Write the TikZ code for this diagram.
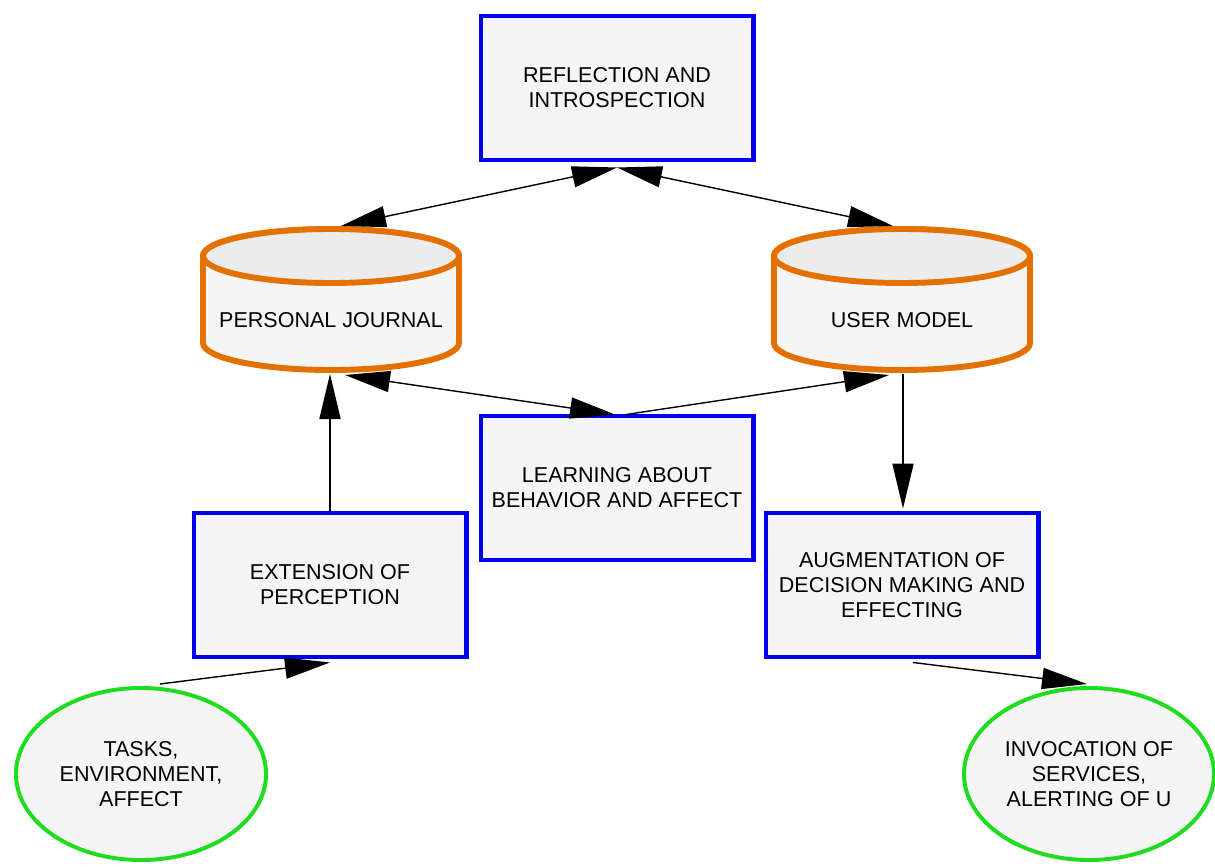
\documentclass[tikz,border=0pt]{standalone}
\usepackage{fontspec}
\setmainfont{Liberation Sans}
\usetikzlibrary{shapes.geometric, calc, arrows.meta}

\definecolor{boxblue}{RGB}{0,0,235}
\definecolor{dborange}{RGB}{228,112,0}
\definecolor{envgreen}{RGB}{30,220,30}
\definecolor{nodefill}{RGB}{245,245,245}
\definecolor{capfill}{RGB}{236,236,236}

\tikzset{
  procbox/.style={draw=boxblue, line width=3.5pt, fill=nodefill,
    minimum width=6.8cm, minimum height=3.6cm, align=center, inner sep=2pt},
  store/.style={draw=dborange, line width=4.2pt, fill=nodefill},
  world/.style={ellipse, draw=envgreen, line width=2.8pt, fill=nodefill,
    minimum width=6.25cm, minimum height=4.3cm, align=center, inner sep=0pt},
  link/.style={line width=1pt}
}

\begin{document}
\begin{tikzpicture}[x=0.025cm, y=-0.025cm, >={Triangle[length=32pt,width=15pt]},
  font=\fontsize{15.3pt}{17.8pt}\selectfont]
\useasboundingbox (0,0) rectangle (1215,867);

% the two stores drawn as cylinders
\foreach \cx in {331, 902} {
  \draw[store] (\cx-128,256) -- (\cx-128,343)
    arc[start angle=180, end angle=0, x radius=128, y radius=27]
    -- (\cx+128,256)
    arc[start angle=0, end angle=-180, x radius=128, y radius=27] -- cycle;
  \draw[store, fill=capfill] (\cx,256) ellipse [x radius=128, y radius=27];
}
\node (pj) at (331,320) {PERSONAL JOURNAL};
\node (um) at (902,320) {USER MODEL};

% processes
\node[procbox] (refl) at (617,88) {REFLECTION AND\\INTROSPECTION};
\node[procbox] (learn) at (617,488) {LEARNING ABOUT\\BEHAVIOR AND AFFECT};
\node[procbox] (ext) at (330,585) {EXTENSION OF\\PERCEPTION};
\node[procbox] (aug) at (902,585) {AUGMENTATION OF\\DECISION MAKING AND\\EFFECTING};

% outside world
\node[world] (tasks) at (141,774) {TASKS,\\ENVIRONMENT,\\AFFECT};
\node[world] (inv) at (1089,774) {INVOCATION OF\\SERVICES,\\ALERTING OF U};

% connectors
\draw[link, <->] ($(refl.south)+(0,5)$) -- ($(pj)+(10,-94)$);
\draw[link, <->] ($(refl.south)+(0,5)$) -- ($(um)+(-9,-94)$);
\draw[link, <->] ($(pj)+(14,55)$) -- ($(learn.north)+(-2,1)$);
\draw[link, ->] ($(learn.north)+(9,1)$) -- ($(um)+(-13,55)$);
\draw[link, ->] (ext.north) -- ($(pj)+(-1,54)$);
\draw[link, ->] ($(um)+(1,54)$) -- ($(aug.north)+(1,-2)$);
\draw[link, ->] ($(tasks.north)+(19,-2)$) -- ($(ext.south)+(0,3)$);
\draw[link, ->] ($(aug.south)+(11,3)$) -- ($(inv.north)+(-2,-2)$);

\end{tikzpicture}
\end{document}
